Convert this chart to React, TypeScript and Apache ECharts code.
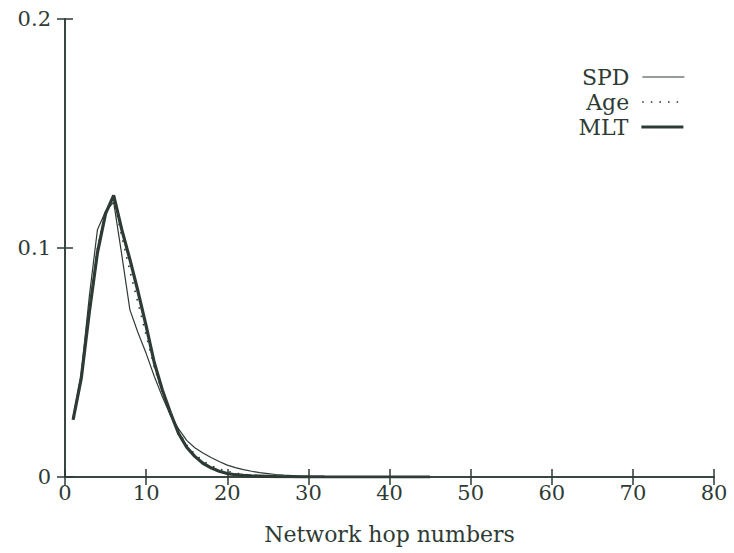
import React, { useEffect, useRef } from "react";
import * as echarts from "echarts";

const hops = [1,2,3,4,5,6,7,8,9,10,11,12,13,14,15,16,17,18,19,20,21,22,23,24,25,26,27,28,29,30,32,35,38,41,45];
const spd = [0.026,0.045,0.079,0.108,0.116,0.12,0.097,0.073,0.063,0.054,0.044,0.035,0.027,0.021,0.016,0.0128,0.0105,0.0085,0.0068,0.0052,0.0041,0.0032,0.0025,0.0019,0.0015,0.0011,0.0008,0.0006,0.0004,0.0003,0.0002,0.0001,0.00005,0.00002,0];
const age = [0.025,0.044,0.074,0.1,0.116,0.121,0.105,0.09,0.076,0.062,0.048,0.037,0.028,0.02,0.014,0.01,0.007,0.005,0.0035,0.0025,0.0017,0.0012,0.0008,0.0005,0.0003,0.0002,0.0001,0.0001,0.00005,0.00003,0.00002,0.00001,0,0,0];
const mlt = [0.025,0.043,0.072,0.098,0.115,0.123,0.108,0.095,0.081,0.066,0.05,0.038,0.028,0.019,0.013,0.009,0.006,0.004,0.0025,0.0015,0.001,0.0007,0.0005,0.0004,0.0003,0.0002,0.0001,0.0001,0.00005,0.00003,0.00002,0.00001,0,0,0];
const seriesNames = ["SPD", "Age", "MLT"];

const INK = "#2e3b34";
const FONT = "DejaVu Serif";
const lineWidths = [1.2, 1.6, 3.2];

export default function App() {
  const ref = useRef<HTMLDivElement>(null);
  useEffect(() => {
    if (!ref.current) return;
    const chart = echarts.init(ref.current, null, { renderer: "svg" });
    const toPairs = (ys: number[]) => hops.map((x, i) => [x, ys[i]]);
    const axisCommon = {
      axisLine: { show: true, lineStyle: { color: INK, width: 1.5 } },
      axisTick: { show: true, inside: true, length: 8, lineStyle: { color: INK, width: 1.5 } },
      splitLine: { show: false },
    };
    const legendAt = (idx: number, top: number) => ({
      data: [seriesNames[idx]],
      right: 44,
      top,
      orient: "vertical",
      align: "right",
      itemWidth: 42,
      itemHeight: 12,
      itemGap: 4,
      itemStyle: { opacity: 0 },
      lineStyle: { width: lineWidths[idx] },
      textStyle: { fontFamily: FONT, fontSize: 22, lineHeight: 22, color: INK, padding: [0, 8, 0, 0] },
      selectedMode: false,
    });
    chart.setOption({
      animation: false,
      backgroundColor: "#ffffff",
      grid: { left: 65, right: 20, top: 19, bottom: 76 },
      legend: [legendAt(0, 61), legendAt(1, 86), legendAt(2, 111)],
      xAxis: [
        {
          type: "value", min: 0, max: 80, interval: 10, position: "bottom",
          name: "Network hop numbers", nameLocation: "middle", nameGap: 46,
          nameTextStyle: { fontFamily: FONT, fontSize: 22, color: INK },
          axisLabel: { fontFamily: FONT, fontSize: 21, color: INK, margin: 5 },
          ...axisCommon,
        },
        {
          type: "value", min: 0, max: 80, interval: 10, position: "top",
          axisLabel: { show: false }, ...axisCommon,
        },
      ],
      yAxis: [
        {
          type: "value", min: 0, max: 0.2, interval: 0.1, position: "left",
          axisLabel: { fontFamily: FONT, fontSize: 21, color: INK, margin: 14 },
          ...axisCommon,
        },
        {
          type: "value", min: 0, max: 0.2, interval: 0.1, position: "right",
          axisLabel: { show: false }, ...axisCommon,
        },
      ],
      series: [
        {
          name: seriesNames[0], type: "line", data: toPairs(spd), symbol: "none",
          lineStyle: { color: INK, width: lineWidths[0] }, itemStyle: { color: INK },
        },
        {
          name: seriesNames[1], type: "line", data: toPairs(age), symbol: "none",
          lineStyle: { color: INK, width: lineWidths[1], type: [1.6, 7] }, itemStyle: { color: INK },
        },
        {
          name: seriesNames[2], type: "line", data: toPairs(mlt), symbol: "none",
          lineStyle: { color: INK, width: lineWidths[2] }, itemStyle: { color: INK },
        },
      ],
    });
    return () => chart.dispose();
  }, []);
  return <div ref={ref} style={{ position: "fixed", left: 0, top: 0, width: 734, height: 553 }} />;
}
